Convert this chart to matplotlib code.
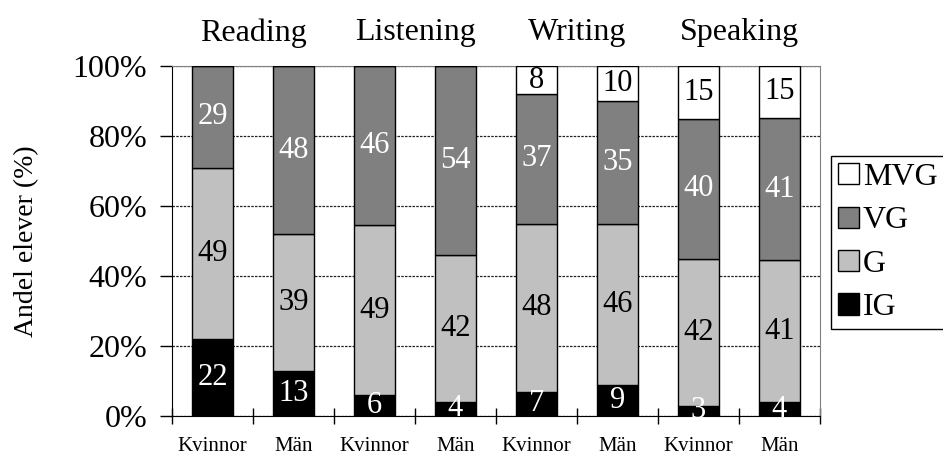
import matplotlib
matplotlib.use("Agg")
import matplotlib.pyplot as plt
import numpy as np

plt.rcParams['font.family'] = ['Liberation Serif', 'DejaVu Serif']

skills = ["Reading", "Listening", "Writing", "Speaking"]
groups = ["Kvinnor", "Män", "Kvinnor", "Män", "Kvinnor", "Män", "Kvinnor", "Män"]
grades = ["IG", "G", "VG", "MVG"]
IG = [22, 13, 6, 4, 7, 9, 3, 4]
G = [49, 39, 49, 42, 48, 46, 42, 41]
VG = [29, 48, 46, 54, 37, 35, 40, 41]
MVG = [0, 0, 0, 0, 8, 10, 15, 15]
yticks = ["0%", "20%", "40%", "60%", "80%", "100%"]

colors = {"IG": "#000000", "G": "#c0c0c0", "VG": "#808080", "MVG": "#ffffff"}
txtcol = {"IG": "white", "G": "black", "VG": "white", "MVG": "black"}

fig = plt.figure(figsize=(9.43, 4.54), dpi=100)
ax = fig.add_axes([172/943, 1-416/454, (820-172)/943, (416-66)/454])

series = {"IG": np.array(IG, float), "G": np.array(G, float),
          "VG": np.array(VG, float), "MVG": np.array(MVG, float)}
total = sum(series.values())
x = np.arange(len(groups))
bottom = np.zeros(len(groups))
handles = {}
for g in grades:
    raw = series[g]
    h = raw / total * 100
    bars = ax.bar(x, h, 0.5, bottom=bottom, color=colors[g], edgecolor="black",
                  linewidth=1.0, zorder=3, label=g)
    handles[g] = bars
    for i in range(len(groups)):
        if raw[i] > 0:
            ax.text(x[i], bottom[i] + h[i]/2, f"{int(raw[i])}", ha="center", va="center",
                    color=txtcol[g], fontsize=22, zorder=4)
    bottom += h

ax.set_xlim(-0.5, len(groups) - 0.5)
ax.set_ylim(0, 100)
ax.set_yticks(np.arange(0, 101, 20))
ax.set_yticklabels(yticks, fontsize=23)
ax.tick_params(axis="y", direction="out", length=9, width=1, pad=9)
ax.set_xticks(x)
ax.set_xticklabels(groups, fontsize=15)
ax.tick_params(axis="x", which="major", length=0, pad=15)
ax.set_xticks(np.arange(-0.5, len(groups), 1), minor=True)
ax.tick_params(axis="x", which="minor", direction="inout", length=12, width=1)
ax.yaxis.grid(True, linestyle=(0, (2, 1)), color="#222222", linewidth=0.9, zorder=1)
ax.set_axisbelow(True)
for s in ["top", "right"]:
    ax.spines[s].set_color("#808080")
for s in ["left", "bottom"]:
    ax.spines[s].set_color("black")

ax.set_ylabel("Andel elever (%)", fontsize=20, labelpad=24)

for k, s in enumerate(skills):
    ax.text(2*k + 0.5, 1.095, s, transform=ax.get_xaxis_transform(), ha="center",
            va="center", fontsize=23)

leg = fig.legend([handles[g] for g in reversed(grades)], list(reversed(grades)),
                 loc="upper left", bbox_to_anchor=(831/943, 1-156/454), fontsize=23,
                 frameon=True, fancybox=False, edgecolor="black", framealpha=1,
                 handlelength=0.65, handleheight=0.65, handletextpad=0.12,
                 labelspacing=0.45, borderpad=0.22, borderaxespad=0)
leg.get_frame().set_linewidth(1.0)

fig.savefig("out.png", dpi=100)
